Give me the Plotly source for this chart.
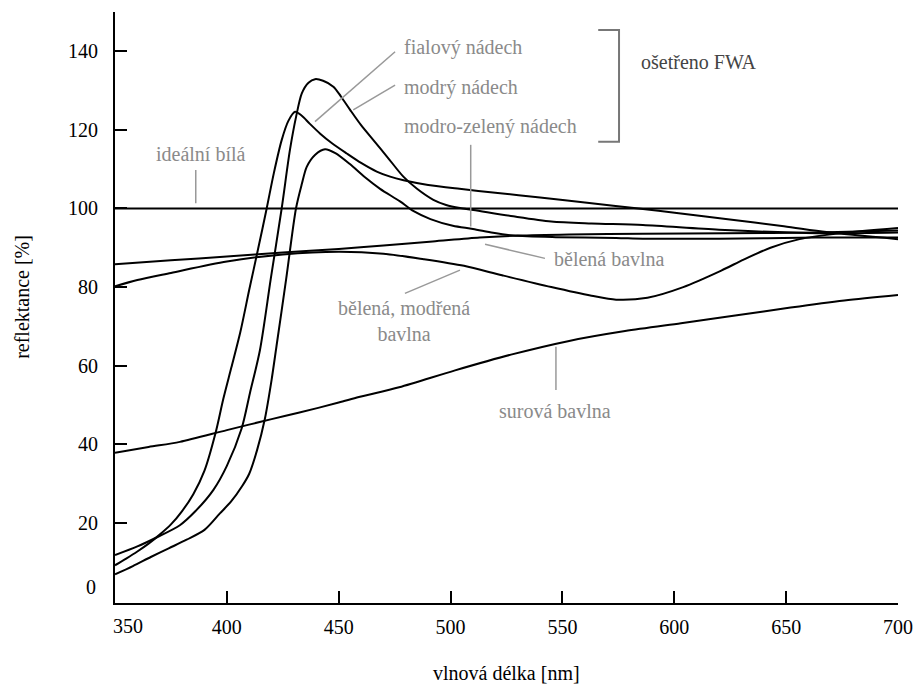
import plotly.graph_objects as go

# ---------------- data ----------------
ideal_x = [350, 700]
ideal_y = [100, 100]

raw_x = [350, 365, 379, 400, 420, 432, 450, 459, 477, 502, 527, 553, 578, 603, 628, 652, 676, 700]
raw_y = [37.8, 39.3, 40.6, 43.6, 46.4, 48.0, 50.6, 52.0, 54.5, 58.8, 62.8, 66.3, 68.8, 70.8, 72.8, 74.8, 76.6, 78.0]

bleached_x = [350, 375, 400, 425, 450, 470, 492, 513, 530, 553, 586, 623, 664, 700]
bleached_y = [85.8, 86.8, 87.8, 88.8, 89.7, 90.6, 91.6, 92.6, 93.1, 93.4, 93.6, 93.7, 93.9, 94.4]

blued_x = [350, 360, 375, 400, 425, 450, 470, 488, 506, 523, 545, 563, 574, 588, 604, 621, 631, 643, 656, 673, 700]
blued_y = [80.2, 81.8, 83.6, 86.5, 88.3, 89.0, 88.5, 87.1, 85.4, 83.0, 80.0, 77.8, 76.8, 77.3, 80.0, 84.2, 87.0, 90.0, 92.2, 93.6, 95.0]

violet_x = [350, 355, 360, 365, 370, 375, 380, 385, 390, 395, 398.4, 402, 406, 410, 414, 417.8, 421, 424.5, 427.5, 430.5,
            433.5, 437, 441.6, 447, 453.6, 460, 467, 473, 479, 490, 504, 520, 540, 562, 584, 602, 623, 649, 668, 700]
violet_y = [9.2, 10.9, 12.7, 14.7, 17.0, 19.6, 23.0, 27.3, 33.3, 43.0, 51.5, 59.5, 68.5, 79.3, 89.8, 100.0, 109.0, 117.4, 122.3, 124.6,
            123.6, 121.6, 119.1, 116.6, 114.0, 111.6, 109.4, 108.1, 107.2, 106.0, 105.0, 104.0, 102.8, 101.4, 100.0, 98.8, 97.3, 95.5, 94.0, 92.2]

blue_x = [350, 360, 369, 379, 386, 394, 400, 406.6, 410.3, 414.8, 419.6, 424.5, 428.2, 431, 433.5, 436.5, 439.4, 443, 447.6, 451,
          455.1, 460, 465.5, 472, 478.9, 485, 492.3, 498, 504.2, 510.2, 528, 545, 563, 586, 620, 664, 700]
blue_y = [11.8, 14.0, 16.4, 19.4, 23.0, 28.4, 34.5, 44.0, 53.0, 64.0, 82.0, 100.0, 114.9, 123.5, 129.3, 132.0, 132.9, 132.5, 131.0, 128.5,
          125.1, 121.2, 117.4, 112.9, 108.1, 105.0, 102.2, 100.9, 100.1, 99.6, 98.0, 96.7, 96.2, 95.8, 94.6, 93.7, 93.9]

bluegreen_x = [350, 358, 366, 374, 382, 390, 396.9, 402, 407, 410, 413.5, 417, 420, 422.2, 426.5, 430.9, 433.5, 435.7, 439.5, 443.9,
               448.5, 455, 461.6, 468.5, 477.4, 483.5, 491, 501, 510, 519, 528, 547, 574, 586, 620, 663, 700]
bluegreen_y = [6.9, 9.0, 11.3, 13.5, 15.7, 18.2, 22.4, 25.5, 29.5, 32.5, 38.5, 46.5, 56.4, 65.0, 82.0, 100.0, 106.2, 110.6, 113.7, 115.1,
               114.1, 111.3, 108.0, 105.0, 101.8, 99.3, 97.3, 95.6, 94.8, 93.8, 93.1, 92.7, 92.5, 92.3, 92.3, 92.6, 92.6]

x_tick_vals = [400, 450, 500, 550, 600, 650, 700]
x_tick_text = ["400", "450", "500", "550", "600", "650", "700"]
x_tick_marks = [400, 450, 500, 550, 600, 650]
y_tick_vals = [20, 40, 60, 80, 100, 120, 140]
y_tick_text = ["20", "40", "60", "80", "100", "120", "140"]

FONT = "Liberation Serif"
FS = 20
GRAY = "#8a8a8a"
LGRAY = "#999999"

fig = go.Figure()
for xs, ys in [(ideal_x, ideal_y), (raw_x, raw_y), (bleached_x, bleached_y), (blued_x, blued_y),
               (violet_x, violet_y), (blue_x, blue_y), (bluegreen_x, bluegreen_y)]:
    fig.add_trace(go.Scatter(x=xs, y=ys, mode="lines",
                             line=dict(color="black", width=2, shape="spline", smoothing=0.8),
                             showlegend=False, hoverinfo="skip"))

# pointer lines
pointers = [
    (386.1, 109.8, 386.1, 101.3),
    (475.2, 139.9, 439.4, 122.1),
    (475.2, 131.4, 456.5, 125.1),
    (509.0, 116.2, 509.0, 95.4),
    (515.4, 90.9, 542.2, 87.3),
    (479.6, 78.4, 504.2, 84.3),
    (547.1, 64.8, 547.1, 53.8),
]
for x0, y0, x1, y1 in pointers:
    fig.add_shape(type="line", x0=x0, y0=y0, x1=x1, y1=y1, xref="x", yref="y",
                  line=dict(color=LGRAY, width=1.5))
# bracket
fig.add_shape(type="path", xref="x", yref="y",
              path="M 566.0 145.4 L 575.3 145.4 L 575.3 117.0 L 566.0 117.0",
              line=dict(color="#777777", width=2))

ann = [
    ("fialový nádech", 478.2, 140.9, "left", GRAY),
    ("modrý nádech", 478.2, 130.7, "left", GRAY),
    ("modro-zelený nádech", 478.2, 120.8, "left", GRAY),
    ("ošetřeno FWA", 584.4, 137.2, "left", "#444444"),
    ("ideální bílá", 388.3, 113.9, "center", GRAY),
    ("bělená bavlna", 545.2, 87.1, "left", GRAY),
    ("bělená, modřená<br>bavlna", 479.2, 71.4, "center", GRAY),
    ("surová bavlna", 546.7, 48.5, "center", GRAY),
]
for t, x, y, xa, c in ann:
    fig.add_annotation(text=t, x=x, y=y, xref="x", yref="y", xanchor=xa, yanchor="middle",
                       showarrow=False, font=dict(family=FONT, size=FS, color=c))

# extra tick labels (offset as in reference)
fig.add_annotation(text="0", x=0, y=3.7, xref="paper", yref="y", xanchor="right", yanchor="middle",
                   xshift=-17, showarrow=False, font=dict(family=FONT, size=FS, color="black"))
fig.add_annotation(text="350", x=355.8, y=0, xref="x", yref="paper", xanchor="center", yanchor="middle",
                   yshift=-23, showarrow=False, font=dict(family=FONT, size=FS, color="black"))

# axis titles
fig.add_annotation(text="vlnová délka [nm]", x=0.5, y=0, xref="paper", yref="paper",
                   xanchor="center", yanchor="middle", yshift=-70, showarrow=False,
                   font=dict(family=FONT, size=FS, color="black"))
fig.add_annotation(text="reflektance [%]", x=0, y=0.518, xref="paper", yref="paper",
                   xanchor="center", yanchor="middle", xshift=-93, textangle=-90, showarrow=False,
                   font=dict(family=FONT, size=FS, color="black"))

fig.update_layout(
    width=918, height=684,
    margin=dict(l=115, r=20, t=12, b=81, autoexpand=False),
    paper_bgcolor="white", plot_bgcolor="white",
    xaxis=dict(range=[350, 700], showline=True, linecolor="black", linewidth=2,
               showgrid=False, zeroline=False, tickmode="array", automargin=False,
               tickvals=x_tick_vals, ticktext=x_tick_text, ticks="",
               ticklabelstandoff=5,
               minor=dict(tickmode="array", tickvals=x_tick_marks, ticks="inside",
                          ticklen=12, tickwidth=2, tickcolor="black", showgrid=False),
               tickfont=dict(family=FONT, size=FS, color="black")),
    yaxis=dict(range=[-0.4, 150], showline=True, linecolor="black", linewidth=2,
               showgrid=False, zeroline=False, tickmode="array", automargin=False,
               tickvals=y_tick_vals, ticktext=y_tick_text, ticks="inside",
               ticklen=12, tickwidth=2, tickcolor="black",
               ticklabelstandoff=11,
               tickfont=dict(family=FONT, size=FS, color="black")),
)

fig.write_html("out.html")
